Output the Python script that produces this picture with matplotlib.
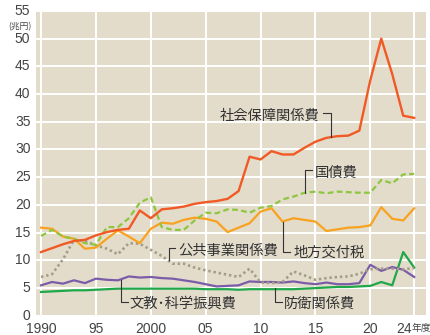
import matplotlib
matplotlib.use('Agg')
import matplotlib.pyplot as plt
from matplotlib import font_manager as fm

years = list(range(1990, 2025))

# 兆円
social_security = [11.5, 12.2, 12.9, 13.5, 13.7, 14.5, 15.1, 15.5, 15.7, 19.0,
                   17.6, 19.2, 19.4, 19.7, 20.2, 20.5, 20.7, 21.1, 22.5, 28.7,
                   28.2, 29.7, 29.1, 29.1, 30.3, 31.4, 32.1, 32.4, 32.5, 33.4,
                   42.5, 50.0, 43.6, 36.1, 35.7]
debt_service = [14.4, 15.5, 14.3, 13.9, 13.1, 12.8, 16.0, 16.0, 17.6, 20.4,
                21.4, 16.0, 15.5, 15.5, 17.2, 18.6, 18.5, 19.2, 19.1, 18.6,
                19.5, 19.8, 21.0, 21.5, 22.2, 22.4, 22.1, 22.4, 22.3, 22.2,
                22.2, 24.5, 23.9, 25.5, 25.6]
local_alloc = [15.9, 15.7, 14.3, 13.9, 12.1, 12.3, 13.9, 15.4, 14.3, 13.1,
               15.7, 16.8, 16.6, 17.3, 17.7, 17.5, 17.0, 15.1, 15.9, 16.7,
               18.8, 19.4, 17.0, 17.6, 17.3, 17.0, 15.3, 15.6, 15.9, 16.0,
               16.3, 19.6, 17.5, 17.2, 19.4]
public_works = [7.0, 7.5, 10.2, 13.7, 13.5, 12.7, 12.1, 11.1, 13.1, 13.0,
                11.9, 10.8, 9.4, 9.4, 8.7, 8.2, 7.8, 7.4, 7.0, 8.5,
                6.0, 5.9, 6.1, 8.0, 7.3, 6.5, 6.8, 7.0, 7.1, 7.6,
                8.4, 8.5, 8.5, 8.4, 8.6]
education = [5.5, 6.1, 5.8, 6.4, 5.9, 6.7, 6.5, 6.4, 7.1, 6.9,
             7.0, 6.8, 6.7, 6.4, 6.1, 5.7, 5.3, 5.4, 5.5, 6.2,
             6.1, 6.1, 6.0, 6.2, 5.9, 5.7, 6.0, 5.7, 5.7, 5.9,
             9.2, 8.1, 8.8, 8.3, 7.0]
defense = [4.3, 4.4, 4.5, 4.6, 4.6, 4.7, 4.8, 4.9, 4.9, 4.9,
           4.9, 4.9, 4.9, 4.9, 4.9, 4.8, 4.8, 4.8, 4.7, 4.8,
           4.8, 4.8, 4.8, 4.8, 4.9, 5.0, 5.1, 5.2, 5.2, 5.3,
           5.4, 6.1, 5.5, 11.5, 8.7]

xticks = [1990, 1995, 2000, 2005, 2010, 2015, 2020, 2024]
xticklabels = ['1990', '95', '2000', '05', '10', '15', '20', '']
yticks = list(range(0, 60, 5))


def has_font(name):
    try:
        fm.findfont(name, fallback_to_default=False)
        return True
    except ValueError:
        return False


NARROW = has_font('Liberation Sans Narrow')
NUM = 'Liberation Sans Narrow' if NARROW else 'Liberation Sans'
NUM_SIZE = 11 if NARROW else 10
JP = 'Noto Sans CJK JP'
plt.rcParams['font.family'] = [JP, 'DejaVu Sans']

fig = plt.figure(figsize=(4.31, 3.35), dpi=100)
ax = fig.add_axes([0.0835, 0.0573, 0.9045, 0.9102])
ax.set_facecolor('#e3dccb')
ax.set_xlim(1989.54, 2025.06)
ax.set_ylim(0, 55)

ax.set_xticks(xticks)
ax.set_yticks(yticks)
ax.grid(True, color='white', lw=1.4)
ax.set_axisbelow(True)
for s in ax.spines.values():
    s.set_visible(False)
ax.tick_params(length=0, labelcolor='#444444', labelsize=NUM_SIZE)
ax.tick_params(axis='x', pad=4.5)
ax.tick_params(axis='y', pad=4)
ax.set_xticklabels(xticklabels, family=NUM)
ax.set_yticklabels([str(v) for v in yticks], family=NUM)
for t in ax.get_yticklabels():
    t.set_va('center')

# last x label split so the "年度" part can be smaller
xt = ax.get_xaxis_transform()
ax.annotate('24', xy=(2024, 0), xycoords=xt, xytext=(-2, -4.5), textcoords='offset points',
            ha='right', va='top', family=NUM, fontsize=NUM_SIZE, color='#444444', annotation_clip=False)
ax.annotate('年度', xy=(2024, 0), xycoords=xt, xytext=(-2, -5.5), textcoords='offset points',
            ha='left', va='top', fontsize=7, color='#444444', annotation_clip=False)
fig.text(19.5 / 431, 1 - 27 / 335, '(兆円)', ha='center', va='center', fontsize=6.3, color='#444444')

ax.plot(years, defense, color='#1fa84a', lw=1.6, zorder=3)
ax.plot(years, education, color='#7b5ca8', lw=1.6, zorder=3)
ax.plot(years, public_works, color='#a39c86', lw=1.9, ls=(0, (0.9, 1.1)), zorder=3)
ax.plot(years, local_alloc, color='#f8a21f', lw=1.6, zorder=4)
ax.plot(years, debt_service, color='#8dc63f', lw=1.6, ls=(0, (2.6, 1.5)), zorder=4)
ax.plot(years, social_security, color='#f15a24', lw=1.7, zorder=5)

# labels with their leader lines
lc = '#333333'
tk = dict(fontsize=10.3, color='#333333', va='center')
lk = dict(color=lc, lw=0.8, zorder=6)

ax.plot([2015.7, 2016.4, 2016.4], [36.5, 36.5, 32.3], **lk)
ax.text(2015.4, 36.0, '社会保障関係費', ha='right', **tk)

ax.plot([2014.65, 2014.04, 2014.04], [26.25, 26.25, 22.2], **lk)
ax.text(2014.95, 25.8, '国債費', ha='left', **tk)

ax.plot([2002.2, 2001.66, 2001.66], [12.2, 12.2, 10.0], **lk)
ax.text(2002.5, 11.8, '公共事業関係費', ha='left', **tk)

ax.plot([2012.07, 2012.07, 2012.7], [17.0, 11.5, 11.5], **lk)
ax.text(2013.0, 11.3, '地方交付税', ha='left', **tk)

ax.plot([2011.3, 2011.3, 2011.95], [5.0, 2.5, 2.5], **lk)
ax.text(2012.1, 2.2, '防衛関係費', ha='left', **tk)

ax.plot([1997.26, 1997.26, 1997.9], [6.4, 2.5, 2.5], **lk)
ax.text(1998.1, 2.2, '文教･科学振興費', ha='left', **tk)

fig.savefig('out.png', dpi=100)
